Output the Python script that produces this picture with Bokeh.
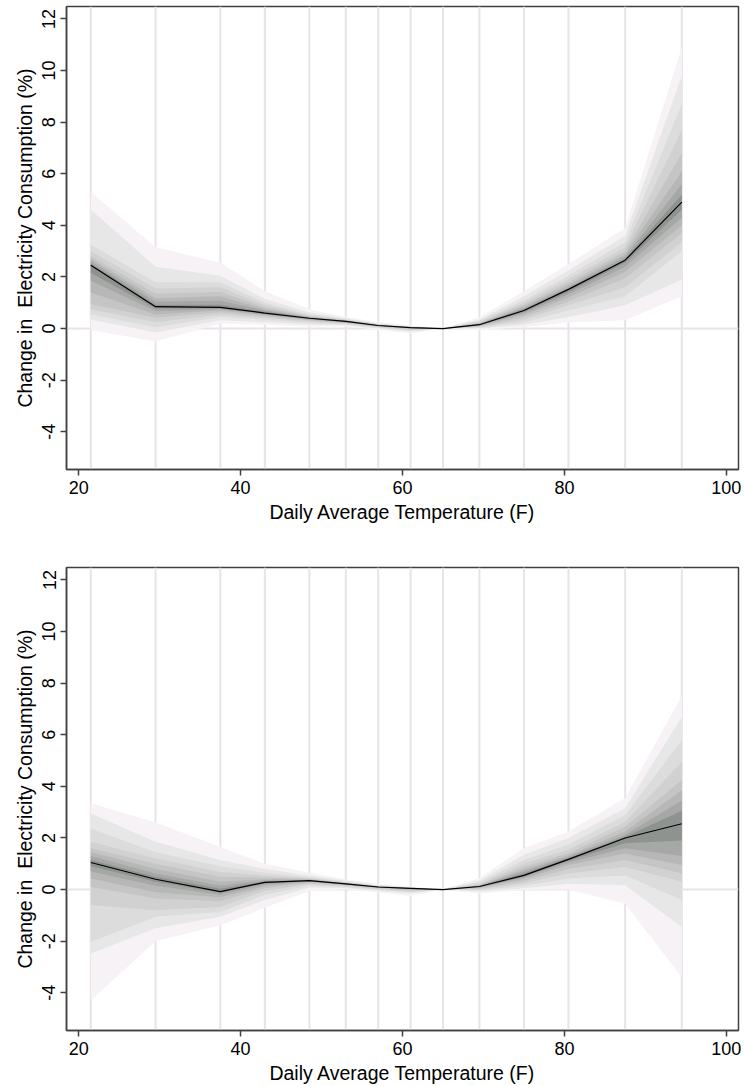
from bokeh.plotting import figure
from bokeh.models import Range1d, FixedTicker, Span
from bokeh.layouts import column
from bokeh.embed import file_html
from bokeh.resources import INLINE

# ---------------- data ----------------
temps = [21.5, 29.5, 37.5, 43, 48.5, 53, 57, 61, 65, 69.5, 75, 80.5, 87.5, 94.5]
x_ticks = [20, 40, 60, 80, 100]
y_ticks = [-4, -2, 0, 2, 4, 6, 8, 10, 12]
y_tick_labels = ["-4", "-2", "0", "2", "4", "6", "8", "10", "12"]

# top panel: central estimate and fan bounds (level 1 = outermost ... level 8 = innermost)
top_median = [2.45, 0.85, 0.82, 0.6, 0.4, 0.28, 0.12, 0.04, 0.0, 0.15, 0.7, 1.52, 2.65, 4.9]
top_upper = [
    [5.3, 3.15, 2.55, 1.45, 0.75, 0.45, 0.25, 0.12, 0.0, 0.45, 1.45, 2.5, 3.9, 10.9],
    [4.6, 2.4, 2.05, 1.15, 0.62, 0.4, 0.2, 0.09, 0.0, 0.35, 1.25, 2.25, 3.6, 9.8],
    [3.25, 1.8, 1.8, 1.0, 0.55, 0.36, 0.18, 0.07, 0.0, 0.3, 1.1, 2.05, 3.35, 8.7],
    [3.0, 1.55, 1.6, 0.9, 0.5, 0.34, 0.16, 0.06, 0.0, 0.26, 1.0, 1.9, 3.15, 7.7],
    [2.8, 1.35, 1.42, 0.82, 0.47, 0.32, 0.15, 0.05, 0.0, 0.22, 0.92, 1.78, 3.0, 6.8],
    [2.7, 1.18, 1.25, 0.75, 0.45, 0.31, 0.14, 0.05, 0.0, 0.2, 0.85, 1.68, 2.88, 6.1],
    [2.6, 1.05, 1.08, 0.7, 0.43, 0.3, 0.13, 0.045, 0.0, 0.18, 0.79, 1.6, 2.78, 5.6],
    [2.52, 0.92, 0.92, 0.65, 0.42, 0.29, 0.125, 0.042, 0.0, 0.16, 0.74, 1.55, 2.7, 5.2],
]
top_lower = [
    [-0.05, -0.5, 0.2, 0.15, 0.08, 0.08, -0.05, -0.18, 0.0, -0.05, 0.05, 0.25, 0.32, 1.25],
    [0.35, -0.15, 0.32, 0.25, 0.15, 0.13, 0.0, -0.12, 0.0, 0.0, 0.15, 0.45, 0.9, 1.9],
    [0.55, 0.05, 0.45, 0.35, 0.22, 0.17, 0.03, -0.08, 0.0, 0.03, 0.25, 0.7, 1.25, 3.0],
    [0.75, 0.25, 0.55, 0.42, 0.27, 0.2, 0.06, -0.05, 0.0, 0.06, 0.35, 0.9, 1.6, 3.35],
    [0.95, 0.42, 0.63, 0.48, 0.31, 0.22, 0.08, -0.02, 0.0, 0.09, 0.45, 1.05, 1.95, 3.7],
    [1.4, 0.55, 0.7, 0.52, 0.34, 0.24, 0.09, 0.0, 0.0, 0.11, 0.53, 1.2, 2.2, 4.0],
    [1.85, 0.68, 0.75, 0.55, 0.36, 0.25, 0.1, 0.02, 0.0, 0.13, 0.6, 1.32, 2.4, 4.3],
    [2.15, 0.78, 0.79, 0.58, 0.38, 0.27, 0.11, 0.03, 0.0, 0.14, 0.65, 1.42, 2.55, 4.6],
]

# bottom panel
bot_median = [1.05, 0.4, -0.08, 0.28, 0.35, 0.22, 0.1, 0.05, 0.0, 0.12, 0.55, 1.17, 2.0, 2.55]
bot_upper = [
    [3.35, 2.6, 1.65, 1.0, 0.65, 0.4, 0.22, 0.12, 0.0, 0.45, 1.6, 2.25, 3.55, 7.5],
    [2.95, 1.85, 1.15, 0.8, 0.55, 0.34, 0.17, 0.09, 0.0, 0.35, 1.35, 2.0, 3.15, 6.7],
    [2.37, 1.45, 0.9, 0.65, 0.48, 0.3, 0.15, 0.08, 0.0, 0.28, 1.15, 1.75, 2.88, 5.8],
    [1.85, 1.2, 0.68, 0.55, 0.44, 0.28, 0.13, 0.07, 0.0, 0.22, 1.0, 1.55, 2.62, 4.95],
    [1.6, 1.0, 0.5, 0.47, 0.41, 0.26, 0.12, 0.06, 0.0, 0.18, 0.88, 1.42, 2.43, 4.25],
    [1.46, 0.8, 0.3, 0.4, 0.39, 0.25, 0.115, 0.055, 0.0, 0.16, 0.78, 1.33, 2.25, 3.85],
    [1.3, 0.62, 0.15, 0.35, 0.37, 0.24, 0.11, 0.052, 0.0, 0.14, 0.7, 1.27, 2.12, 3.45],
    [1.15, 0.5, 0.03, 0.31, 0.36, 0.23, 0.105, 0.05, 0.0, 0.13, 0.62, 1.22, 2.05, 3.05],
]
bot_lower = [
    [-4.3, -2.0, -1.38, -0.7, -0.05, 0.0, -0.1, -0.25, 0.0, -0.15, -0.02, 0.0, -0.55, -3.4],
    [-2.48, -1.5, -1.05, -0.4, 0.08, 0.06, -0.05, -0.15, 0.0, -0.08, 0.05, 0.23, 0.17, -1.45],
    [-2.03, -1.05, -0.87, -0.2, 0.16, 0.1, -0.01, -0.1, 0.0, -0.03, 0.15, 0.43, 0.55, -0.4],
    [-0.6, -0.8, -0.67, -0.05, 0.22, 0.14, 0.02, -0.06, 0.0, 0.0, 0.25, 0.62, 0.88, 0.3],
    [0.1, -0.35, -0.45, 0.05, 0.26, 0.17, 0.05, -0.03, 0.0, 0.04, 0.33, 0.8, 1.15, 0.62],
    [0.43, -0.1, -0.3, 0.13, 0.29, 0.19, 0.07, 0.0, 0.0, 0.07, 0.41, 0.95, 1.4, 0.95],
    [0.7, 0.15, -0.2, 0.2, 0.31, 0.2, 0.08, 0.02, 0.0, 0.09, 0.47, 1.05, 1.6, 1.3],
    [0.9, 0.3, -0.12, 0.25, 0.33, 0.21, 0.09, 0.04, 0.0, 0.11, 0.51, 1.12, 1.8, 1.9],
]

band_colors = ["#f6f2f6", "#e7e7e7", "#dcdcdc", "#d1d1d1", "#c5c5c5", "#b7b7b7",
               "#a6a8a6", "#8f938f"]

FONT = "Liberation Sans"
AX = "#404040"


def make_panel(median, upper, lower, b_top, b_bottom):
    p = figure(frame_width=672, frame_height=463,
               x_range=Range1d(18.5, 101.5), y_range=Range1d(-5.46, 12.48),
               output_backend="svg", toolbar_location=None,
               min_border_left=66, min_border_right=6,
               min_border_top=b_top, min_border_bottom=b_bottom)
    p.xgrid.visible = False
    p.ygrid.visible = False
    p.background_fill_color = "white"
    p.border_fill_color = "white"
    p.outline_line_color = AX
    p.outline_line_width = 1.5

    for t in temps:
        p.add_layout(Span(location=t, dimension="height", line_color="#e7e3e7",
                          line_width=2, level="underlay"))
    p.add_layout(Span(location=0, dimension="width", line_color="#e7e3e7",
                      line_width=2, level="underlay"))

    for up, lo, c in zip(upper, lower, band_colors):
        p.varea(x=temps, y1=lo, y2=up, fill_color=c)
    p.line(temps, median, line_color="black", line_width=1.2)

    p.xaxis.ticker = FixedTicker(ticks=x_ticks)
    p.yaxis.ticker = FixedTicker(ticks=y_ticks)
    p.yaxis.major_label_overrides = dict(zip(y_ticks, y_tick_labels))
    p.xaxis.axis_label = "Daily Average Temperature (F)"
    p.yaxis.axis_label = "Change in\u00a0 Electricity Consumption (%)"
    p.yaxis.major_label_orientation = "vertical"
    for ax in p.axis:
        ax.axis_line_color = AX
        ax.axis_line_width = 1.5
        ax.major_tick_line_color = AX
        ax.major_tick_line_width = 1.5
        ax.major_tick_out = 6
        ax.major_tick_in = 0
        ax.minor_tick_out = 0
        ax.minor_tick_in = 0
        ax.major_label_text_font = FONT
        ax.major_label_text_font_size = "18px"
        ax.major_label_text_color = "black"
        ax.major_label_standoff = 5
        ax.axis_label_text_font = FONT
        ax.axis_label_text_font_size = "19.5px"
        ax.axis_label_text_font_style = "normal"
        ax.axis_label_text_color = "black"
        ax.axis_label_standoff = 4
    return p


p1 = make_panel(top_median, top_upper, top_lower, 6, 96)
p2 = make_panel(bot_median, bot_upper, bot_lower, 2, 55)

layout = column(p1, p2, spacing=0)
open("out.html", "w").write(file_html(layout, INLINE))
